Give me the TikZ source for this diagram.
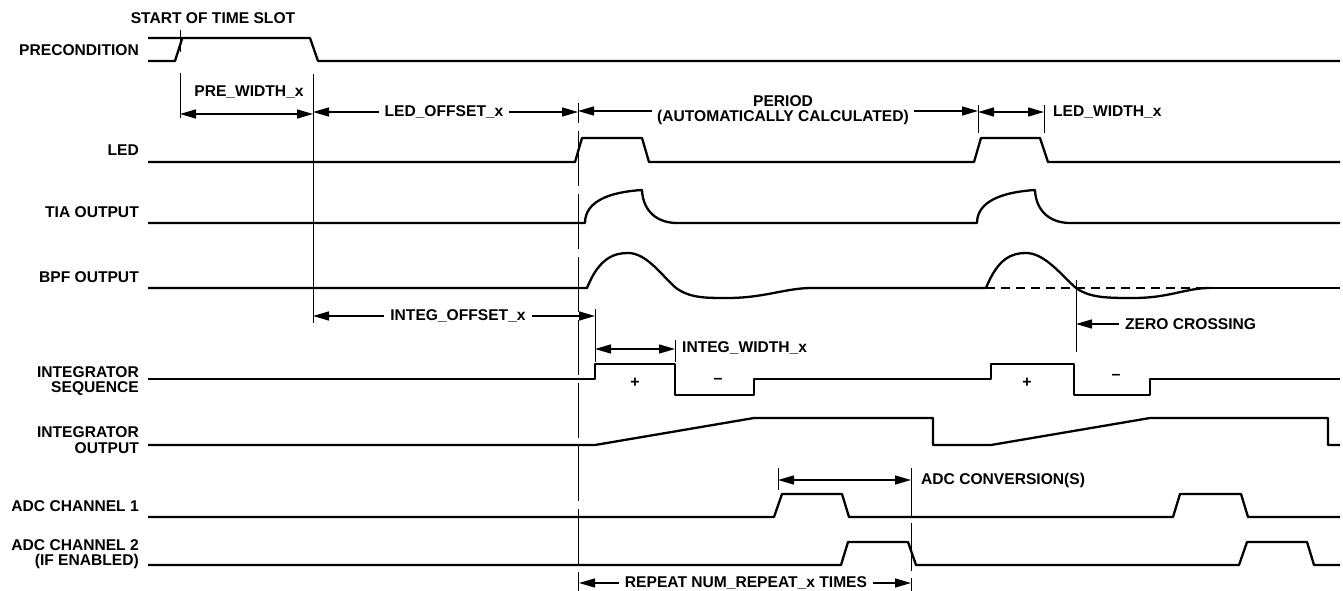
\documentclass[tikz,border=0pt]{standalone}
\usepackage{fontspec}
\setmainfont{Liberation Sans}
\usetikzlibrary{arrows.meta}
\begin{document}
\begin{tikzpicture}[x=1pt,y=-1pt,
  sig/.style={line width=2.3pt, line join=round},
  sigdash/.style={line width=2.3pt, dash pattern=on 9pt off 6pt},
  thin/.style={line width=1pt},
  vdash/.style={line width=1pt, dash pattern=on 55pt off 8pt},
  tipA/.tip={Triangle[length=16pt,width=9pt]},
  dimarr/.style={line width=1.4pt, tipA-tipA},
  onearr/.style={line width=1.4pt, -tipA},
  lbl/.style={font=\bfseries\fontsize{15.6}{15.5}\selectfont, align=right, anchor=east, inner sep=0pt},
  txt/.style={font=\bfseries\fontsize{15.6}{15.5}\selectfont, inner sep=0pt, align=center},
  gap/.style={txt, fill=white, inner xsep=6pt, inner ysep=2pt},
  sign/.style={font=\bfseries\fontsize{16}{16}\selectfont, inner sep=0pt},
]
\useasboundingbox (0,0) rectangle (1343,591);

% ---------- left labels ----------
\node[lbl] (lpre) at (139,50) {PRECONDITION};
\node[lbl] (lled) at (139,150) {LED};
\node[lbl] (ltia) at (139,212) {TIA OUTPUT};
\node[lbl] (lbpf) at (139,277) {BPF OUTPUT};
\node[lbl] (lseq) at (139,381) {INTEGRATOR\\SEQUENCE};
\node[lbl] (lout) at (139,440) {INTEGRATOR\\OUTPUT};
\node[lbl] (ladc1) at (139,506) {ADC CHANNEL 1};
\node[lbl] (ladc2) at (139,554) {ADC CHANNEL 2\\(IF ENABLED)};

% ---------- signals ----------
% precondition
\draw[sig] (148,38) -- (310,38) -- (318,61) -- (1340,61);
\draw[sig] (148,61) -- (175,61) -- (182,39);
% LED
\draw[sig] (148,162) -- (575,162) -- (582,138) -- (642,138) -- (649,162)
  -- (974,162) -- (981,138) -- (1040,138) -- (1048,162) -- (1340,162);
% TIA output
\draw[sig] (148,223) -- (585,223)
  .. controls (585,201) and (610,192) .. (642,190)
  .. controls (643,212) and (658,223) .. (677,223)
  -- (977,223)
  .. controls (977,201) and (1003,192) .. (1035,190)
  .. controls (1036,212) and (1051,223) .. (1070,223)
  -- (1340,223);
% BPF output
\draw[sig] (148,288) -- (587,288)
  .. controls (599,258) and (614,253) .. (628,253)
  .. controls (647,253) and (662,276) .. (676,288)
  .. controls (690,298) and (705,298) .. (727,298)
  .. controls (765,298) and (785,288) .. (812,288)
  -- (986,288)
  .. controls (998,258) and (1012,253) .. (1026,253)
  .. controls (1045,253) and (1062,276) .. (1076,288)
  .. controls (1090,298) and (1108,298) .. (1133,298)
  .. controls (1170,298) and (1185,288) .. (1210,288);
\draw[sigdash] (986,288) -- (1210,288);
\draw[sig] (1210,288) -- (1340,288);
% integrator sequence
\draw[sig] (148,379) -- (595,379) -- (595,364) -- (675,364) -- (675,395)
  -- (754,395) -- (754,379) -- (991,379) -- (991,364) -- (1074,364)
  -- (1074,395) -- (1150,395) -- (1150,379) -- (1340,379);
\node[sign] (p1) at (635,383) {+};
\node[sign] (m1) at (718,381) {–};
\node[sign] (p2) at (1027,383) {+};
\node[sign] (m2) at (1116,377) {–};
% integrator output
\draw[sig] (148,445) -- (595,445) -- (754,418) -- (933,418) -- (933,445)
  -- (991,445) -- (1150,418) -- (1328,418) -- (1328,445) -- (1340,445);
% ADC channel 1
\draw[sig] (148,517) -- (774,517) -- (782,494) -- (842,494) -- (849,517)
  -- (1173,517) -- (1180,494) -- (1241,494) -- (1248,517) -- (1340,517);
% ADC channel 2
\draw[sig] (148,565) -- (841,565) -- (848,542) -- (908,542) -- (916,565)
  -- (1239,565) -- (1247,542) -- (1307,542) -- (1314,565) -- (1340,565);

% ---------- extension / tick lines ----------
\coordinate (ts1) at (180,30);  \coordinate (ts2) at (180,52);
\coordinate (pw1t) at (180,73); \coordinate (pw1b) at (180,118);
\coordinate (lo1t) at (313,74); \coordinate (lo1b) at (313,323);
\coordinate (led1t) at (578,103); \coordinate (led1m) at (578,123);
\coordinate (led1d) at (578,131); \coordinate (led1b) at (578,591);
\coordinate (lw1t) at (978,105); \coordinate (lw1b) at (978,133);
\coordinate (lw2t) at (1044,105); \coordinate (lw2b) at (1044,133);
\coordinate (io2t) at (595,309); \coordinate (io2b) at (595,362);
\coordinate (iw2t) at (675,340); \coordinate (iw2b) at (675,362);
\coordinate (zct) at (1076,280); \coordinate (zcb) at (1076,352);
\coordinate (ac1t) at (778,468); \coordinate (ac1b) at (778,490);
\coordinate (ac2t) at (911,468); \coordinate (ac2b) at (911,591);
\draw[thin] (ts1) -- (ts2);
\draw[thin] (pw1t) -- (pw1b);
\draw[thin] (lo1t) -- (lo1b);
\draw[thin] (led1t) -- (led1m);
\draw[vdash] (led1d) -- (led1b);
\draw[thin] (lw1t) -- (lw1b);
\draw[thin] (lw2t) -- (lw2b);
\draw[thin] (io2t) -- (io2b);
\draw[thin] (iw2t) -- (iw2b);
\draw[thin] (zct) -- (zcb);
\draw[thin] (ac1t) -- (ac1b);
\draw[line width=1pt, dash pattern=on 48pt off 7pt] (ac2t) -- (ac2b);

% ---------- dimension arrows ----------
\node[txt] (tslot) at (213,18) {START OF TIME SLOT};

\coordinate (pwa) at (180,114); \coordinate (pwb) at (313,114);
\draw[dimarr] (pwa) -- (pwb);
\node[txt] (pwt) at (249,92) {PRE\_WIDTH\_x};

\coordinate (loa) at (313,112); \coordinate (lob) at (578,112);
\draw[dimarr] (loa) -- (lob);
\node[gap] (lot) at (444,112) {LED\_OFFSET\_x};

\coordinate (pea) at (578,111); \coordinate (peb) at (978,111);
\draw[dimarr] (pea) -- (peb);
\node[gap, inner xsep=5pt, inner ysep=1pt] (pet) at (783,110) {PERIOD\\(AUTOMATICALLY CALCULATED)};

\coordinate (lwa) at (978,112); \coordinate (lwb) at (1044,112);
\draw[dimarr] (lwa) -- (lwb);
\node[txt, anchor=west] (lwt) at (1053,112) {LED\_WIDTH\_x};

\coordinate (ioa) at (313,316); \coordinate (iob) at (595,316);
\draw[dimarr] (ioa) -- (iob);
\node[gap] (iot) at (458,316) {INTEG\_OFFSET\_x};

\coordinate (iwa) at (595,349); \coordinate (iwb) at (675,349);
\draw[dimarr] (iwa) -- (iwb);
\node[txt, anchor=west] (iwt) at (682,348) {INTEG\_WIDTH\_x};

\node[txt, anchor=west] (zct) at (1125,324) {ZERO CROSSING};
\coordinate (zca) at (1076,324);
\draw[onearr] ([xshift=-6pt]zct.west) -- (zca);

\coordinate (aca) at (778,480); \coordinate (acb) at (911,480);
\draw[dimarr] (aca) -- (acb);
\node[txt, anchor=west] (act) at (921,480) {ADC CONVERSION(S)};

\coordinate (rpa) at (579,583); \coordinate (rpb) at (911,583);
\draw[dimarr] (rpa) -- (rpb);
\node[gap] (rpt) at (746,583) {REPEAT NUM\_REPEAT\_x TIMES};
\end{tikzpicture}
\end{document}
